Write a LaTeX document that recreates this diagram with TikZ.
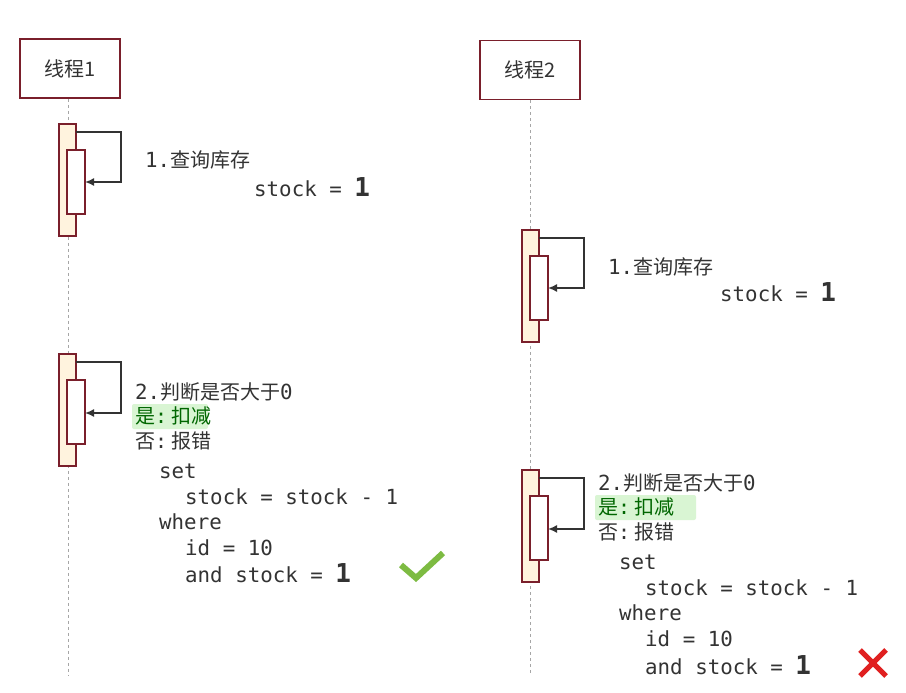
\documentclass[tikz,border=0pt]{standalone}
\usepackage{fontspec}
\usetikzlibrary{arrows.meta}
\setmonofont{DejaVu Sans Mono}
\newfontfamily\cjk{Noto Sans CJK SC}
\definecolor{bord}{HTML}{7A1F2B}
\definecolor{actfill}{HTML}{FFF3DE}
\definecolor{txt}{HTML}{333333}
\definecolor{hl}{HTML}{D9F5D3}
\definecolor{ok}{HTML}{7DBB42}
\definecolor{bad}{HTML}{E02020}
\begin{document}
\begin{tikzpicture}[x=1pt,y=-1pt,
  head/.style={draw=bord,line width=1.6pt,fill=white,minimum width=100pt,minimum height=59pt,font=\cjk\fontsize{20}{22}\selectfont,text=txt},
  act/.style={draw=bord,line width=1.3pt,fill=actfill},
  inner/.style={draw=bord,line width=1.3pt,fill=white},
  life/.style={draw=gray!70,dashed,line width=0.8pt},
  loop/.style={draw=txt,line width=1.6pt,-{Latex[length=9pt,width=8pt]}},
  lbl/.style={anchor=west,inner sep=0pt,text=txt,font=\cjk\fontsize{20}{22}\selectfont},
  code/.style={anchor=west,inner sep=0pt,text=txt,font=\ttfamily\fontsize{20.8}{22}\selectfont}]
\useasboundingbox[fill=white] (0,0) rectangle (906,693);
\newcommand{\one}{{\fontsize{26}{26}\selectfont\bfseries 1}}
\newcommand{\cl}{{\ttfamily:}\ }
\node[head] (t1) at (70,68.5) {线程1};
\coordinate (l1end) at (68,675);
\draw[life] (t1.south -| 68,0) -- (l1end);
\node[head] (t2) at (530,70) {线程2};
\coordinate (l2end) at (530,675);
\draw[life] (t2.south -| 530,0) -- (l2end);
% activations thread 1
\path[act] (59,124) rectangle (76,236);
\path[inner] (67,150) rectangle (85,214);
\coordinate (a1) at (76,132); \coordinate (b1) at (85,182);
\draw[loop] (a1) -| (121,182) -- (b1);
\node[lbl] (q1) at (145,160) {{\ttfamily\fontsize{20.8}{22}\selectfont 1.}查询库存};
\node[code] (s1) at (254,187) {stock = \one};
\path[act] (59,354) rectangle (76,466);
\path[inner] (67,380) rectangle (85,444);
\coordinate (a2) at (76,362); \coordinate (b2) at (85,413);
\draw[loop] (a2) -| (121,413) -- (b2);
\node[lbl] (j1) at (135,392) {{\ttfamily\fontsize{20.8}{22}\selectfont 2.}判断是否大于{\ttfamily\fontsize{20.8}{22}\selectfont 0}};
\fill[hl,rounded corners=2pt] (132,404) rectangle (208,429);
\node[lbl,text=black!60!green] (y1) at (135,416) {是\cl 扣减};
\node[lbl] (n1) at (135,441) {否\cl 报错};
\node[code] (c1) at (159,471) {set};
\node[code] (c2) at (185,497) {stock = stock - 1};
\node[code] (c3) at (159,522) {where};
\node[code] (c4) at (185,548) {id = 10};
\node[code] (c5) at (185,573) {and stock = \one};
\draw[ok,line width=6pt] (401,565) -- (416,578) -- (443,553);
% thread 2
\path[act] (522,230) rectangle (539,342);
\path[inner] (530,256) rectangle (548,320);
\coordinate (a3) at (539,238); \coordinate (b3) at (548,288);
\draw[loop] (a3) -| (584,288) -- (b3);
\node[lbl] (q2) at (608,267) {{\ttfamily\fontsize{20.8}{22}\selectfont 1.}查询库存};
\node[code] (s2) at (720,292) {stock = \one};
\path[act] (522,470) rectangle (539,582);
\path[inner] (530,496) rectangle (548,560);
\coordinate (a4) at (539,478); \coordinate (b4) at (548,529);
\draw[loop] (a4) -| (584,529) -- (b4);
\node[lbl] (j2) at (598,483) {{\ttfamily\fontsize{20.8}{22}\selectfont 2.}判断是否大于{\ttfamily\fontsize{20.8}{22}\selectfont 0}};
\fill[hl,rounded corners=2pt] (595,495) rectangle (696,520);
\node[lbl,text=black!60!green] (y2) at (598,507) {是\cl 扣减};
\node[lbl] (n2) at (598,532) {否\cl 报错};
\node[code] (d1) at (619,562) {set};
\node[code] (d2) at (645,588) {stock = stock - 1};
\node[code] (d3) at (619,613) {where};
\node[code] (d4) at (645,639) {id = 10};
\node[code] (d5) at (645,665) {and stock = \one};
\draw[bad,line width=5pt] (860,650) -- (886,676) (886,650) -- (860,676);
\end{tikzpicture}
\end{document}
